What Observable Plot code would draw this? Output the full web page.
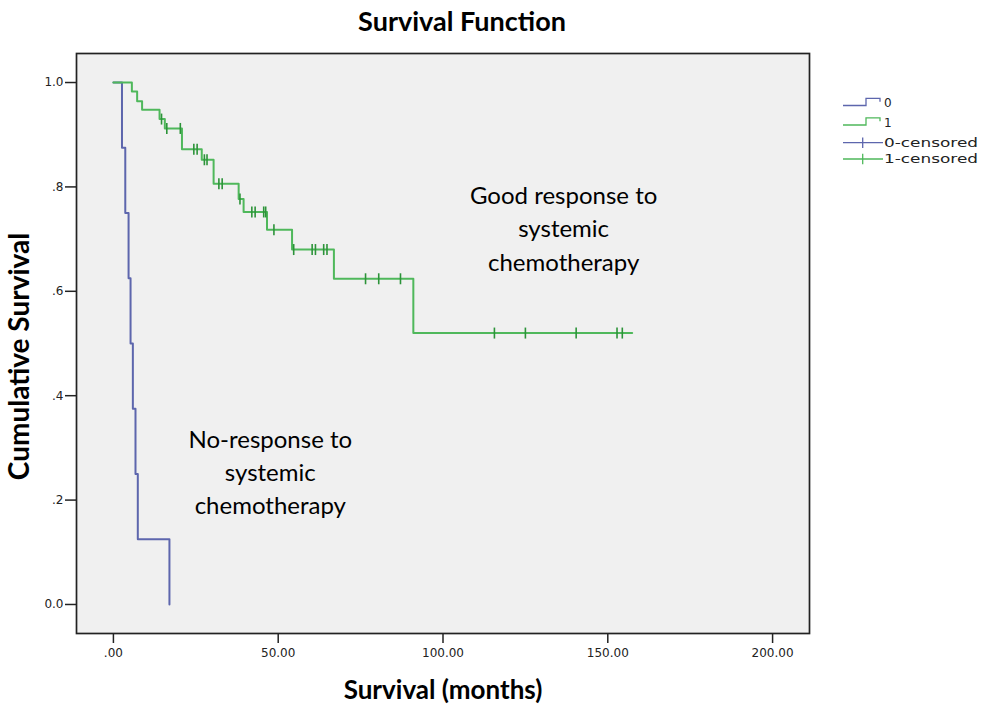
<!DOCTYPE html>
<html>
<head>
<meta charset="utf-8">
<script src="https://cdn.jsdelivr.net/npm/d3@7"></script>
<script src="https://cdn.jsdelivr.net/npm/@observablehq/plot@0.6"></script>
<style>
  body { margin: 0; background: #fff; }
  #wrap { position: relative; width: 987px; height: 711px; overflow: hidden; }
  #title { position: absolute; left: 0; top: 4px; width: 924px; text-align: center;
           font-family: Lato, "Open Sans", sans-serif; font-weight: bold; font-size: 27px; line-height: 34px; color: #000; }
  #chart { position: absolute; left: 0; top: 40px; }
  #legend { position: absolute; left: 830px; top: 85px; }
</style>
</head>
<body>
<div id="wrap">
  <div id="title">Survival Function</div>
  <div id="chart"></div>
  <svg id="legend" width="157" height="95"></svg>
</div>
<script>
// ---- Data ----
// Group 0 (no response): Kaplan–Meier step points (time in months, cumulative survival)
const group0Times = [0, 2.6, 3.6, 4.6, 5.2, 5.9, 6.7, 7.4, 17.0];
const group0Surv  = [1.0, 0.875, 0.75, 0.625, 0.5, 0.375, 0.25, 0.125, 0.0];

// Group 1 (good response): step points
const group1Times = [0, 5.6, 7.2, 8.7, 14.0, 15.6, 20.8, 26.8, 30.4, 38.0, 39.5, 46.6, 54.2, 66.9, 91.0, 157.4];
const group1Surv  = [1.0, 0.983, 0.964, 0.948, 0.930, 0.912, 0.872, 0.852, 0.806, 0.777, 0.752, 0.718, 0.680, 0.624, 0.520, 0.520];

// Group 1 censored observations
const censor1Times = [14.6, 16.2, 20.3, 24.4, 25.4, 27.6, 28.4, 32.0, 33.0, 38.4, 42.0, 43.0, 45.6, 46.2, 48.7,
                      54.7, 60.3, 61.3, 63.8, 64.8, 76.5, 80.5, 87.1, 115.6, 125.0, 140.4, 152.8, 154.4];
const censor1Surv  = [0.930, 0.912, 0.912, 0.872, 0.872, 0.852, 0.852, 0.806, 0.806, 0.777, 0.752, 0.752, 0.752, 0.752, 0.718,
                      0.680, 0.680, 0.680, 0.680, 0.680, 0.624, 0.624, 0.624, 0.520, 0.520, 0.520, 0.520, 0.520];

// Axis ticks
const xTicks = [0, 50, 100, 150, 200];
const xTickLabels = [".00", "50.00", "100.00", "150.00", "200.00"];
const yTicks = [0, 0.2, 0.4, 0.6, 0.8, 1.0];
const yTickLabels = ["0.0", ".2", ".4", ".6", ".8", "1.0"];

// Legend entries
const legendLabels = ["0", "1", "0-censored", "1-censored"];

// Annotations (text, anchor time, anchor survival)
const annotationTexts = ["Good response to\nsystemic\nchemotherapy", "No-response to\nsystemic\nchemotherapy"];
const annotationTimes = [136.6, 47.6];
const annotationSurv  = [0.724, 0.257];

// ---- Build tables ----
const g0 = group0Times.map((t, i) => ({t, s: group0Surv[i]}));
const g1 = group1Times.map((t, i) => ({t, s: group1Surv[i]}));
const c1 = censor1Times.map((t, i) => ({t, s: censor1Surv[i]}));
const notes = annotationTexts.map((text, i) => ({text, t: annotationTimes[i], s: annotationSurv[i]}));

const BLUE = "#5d66ad";
const GREEN = "#4fb85b";
const GREEN_DARK = "#2c9339";

const vbar = { draw(context) { context.moveTo(0, -5.5); context.lineTo(0, 5.5); } };

const FONT = "Lato, 'Open Sans', sans-serif";

const chart = Plot.plot({
  width: 987,
  height: 671,
  marginTop: 13,
  marginBottom: 78,
  marginLeft: 76,
  marginRight: 178,
  style: { fontFamily: "'DejaVu Sans', Verdana, sans-serif", fontSize: "12px", color: "#222", background: "transparent", overflow: "visible" },
  x: { domain: [-11.2, 211.2], ticks: xTicks, tickFormat: d => xTickLabels[xTicks.indexOf(d)], tickSize: 10, tickPadding: 5, label: null },
  y: { domain: [-0.0556, 1.0556], ticks: yTicks, tickFormat: d => yTickLabels[yTicks.findIndex(v => Math.abs(v - d) < 1e-9)], tickSize: 11, tickPadding: 2, label: null },
  marks: [
    Plot.frame({ fill: "#f0f0f0" }),
    Plot.line(g0, { x: "t", y: "s", curve: "step-after", stroke: BLUE, strokeWidth: 2 }),
    Plot.line(g1, { x: "t", y: "s", curve: "step-after", stroke: GREEN, strokeWidth: 2 }),
    Plot.dot(c1, { x: "t", y: "s", symbol: vbar, stroke: GREEN_DARK, fill: "none", strokeWidth: 1.6 }),
    Plot.text(notes, { x: "t", y: "s", text: "text", fontSize: 24, lineHeight: 1.39, fill: "#000",
                       fontFamily: FONT, textAnchor: "middle", lineAnchor: "middle" }),
    Plot.frame({ stroke: "#222", strokeWidth: 1.7 }),
    Plot.text(["Survival (months)"], { frameAnchor: "bottom", dy: 57, textAnchor: "middle", lineAnchor: "middle",
                                       fontSize: 26, fontWeight: "bold", fill: "#000", fontFamily: FONT }),
    Plot.text(["Cumulative Survival"], { frameAnchor: "left", dx: -56, dy: 13, rotate: -90, textAnchor: "middle", lineAnchor: "middle",
                                         fontSize: 28, fontWeight: "bold", fill: "#000", fontFamily: FONT })
  ]
});
d3.select(chart).selectAll("[aria-label='x-axis tick'], [aria-label='y-axis tick']").attr("stroke", "#222").attr("stroke-width", 1.5);
document.getElementById("chart").appendChild(chart);

// ---- Legend (right side, outside the plot frame) ----
const leg = d3.select("#legend");
const rows = [
  { label: legendLabels[0], color: BLUE, kind: "step", y: 20.5 },
  { label: legendLabels[1], color: GREEN, kind: "step", y: 40 },
  { label: legendLabels[2], color: BLUE, kind: "cens", y: 57.7 },
  { label: legendLabels[3], color: GREEN, kind: "cens", y: 74 }
];
rows.forEach(r => {
  if (r.kind === "step") {
    leg.append("path").attr("d", `M13,${r.y}H36V${r.y - 7.2}H50V${r.y - 3.8}`)
      .attr("fill", "none").attr("stroke", r.color).attr("stroke-width", 1.3);
    leg.append("text").attr("x", 54).attr("y", r.y - 2.5).attr("dy", "0.35em")
      .attr("font-family", "'DejaVu Sans', Verdana, sans-serif").attr("font-size", 12).attr("fill", "#222").text(r.label);
  } else {
    leg.append("path").attr("d", `M13,${r.y}H53M32.7,${r.y - 5.3}V${r.y + 5.3}`)
      .attr("fill", "none").attr("stroke", r.color).attr("stroke-width", 1.3);
    leg.append("text").attr("x", 54).attr("y", r.y).attr("dy", "0.35em")
      .attr("font-family", "'DejaVu Sans', Verdana, sans-serif").attr("font-size", 12.5).attr("fill", "#222")
      .attr("textLength", 94).attr("lengthAdjust", "spacingAndGlyphs").text(r.label);
  }
});
</script>
</body>
</html>
